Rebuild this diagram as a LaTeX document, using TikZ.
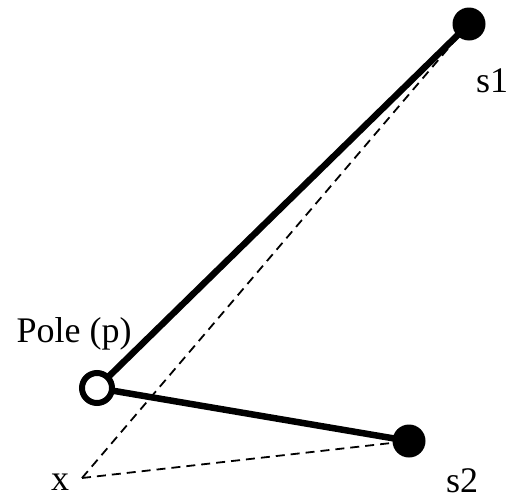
\documentclass[tikz,border=0pt]{standalone}
\usepackage{fontspec}
\setmainfont{Liberation Serif}
\usetikzlibrary{positioning}

\begin{document}
\begin{tikzpicture}[
    x=1pt, y=-1pt,
    pmfixed/.style={circle, fill=black, inner sep=0pt, minimum size=33pt},
    pmpole/.style={circle, draw=black, line width=6pt, fill=white, inner sep=0pt, minimum size=30pt},
    pmpoint/.style={inner sep=0pt, minimum size=0pt},
    pmlabel/.style={font=\fontsize{36}{40}\selectfont, anchor=base, inner sep=0pt},
    pmbar/.style={line width=6.5pt},
    pmguide/.style={line width=1.8pt, dash pattern=on 9pt off 6pt}
]
\useasboundingbox (0,0) rectangle (511,501);
\node[pmpoint] (x) at (82,478) {};
\node[pmfixed] (s1) at (469,24) {};
\node[pmfixed] (s2) at (409,441) {};
\node[pmpoint] (pole) at (97,388) {};

\draw[pmguide] (x.center) -- (s1.center);
\draw[pmguide] (x.center) -- (s2.center);
\draw[pmbar] (pole.center) -- (s1.center);
\draw[pmbar] (pole.center) -- (s2.center);
\node[pmpole] (polering) at (pole) {};

\node[pmlabel] (s1lbl) at (492,92) {s1};
\node[pmlabel] (s2lbl) at (462,492) {s2};
\node[pmlabel] (xlbl) at (60,490) {x};
\node[pmlabel] (polelbl) at (74,342) {Pole (p)};
\end{tikzpicture}
\end{document}
